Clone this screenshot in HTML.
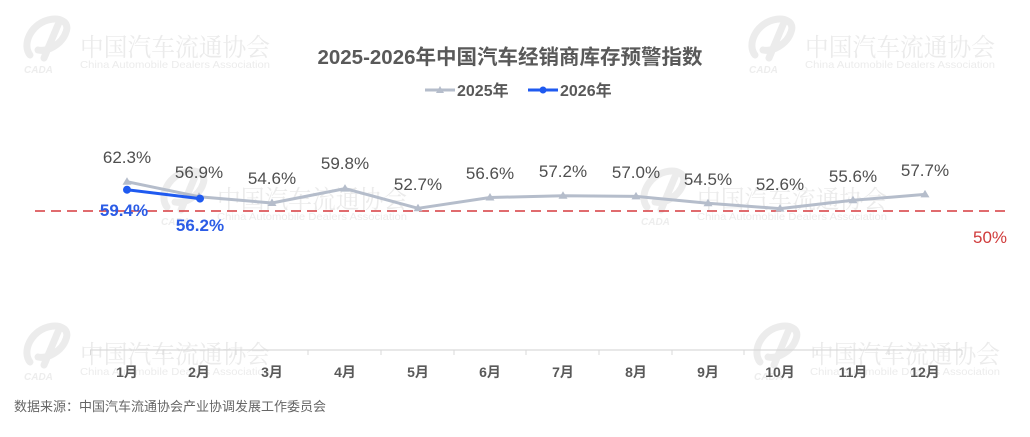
<!DOCTYPE html>
<html>
<head>
<meta charset="utf-8">
<style>
html,body{margin:0;padding:0;background:#fff;}
body{width:1030px;height:437px;overflow:hidden;}
svg{display:block;}
</style>
</head>
<body>
<svg width="1030" height="437" viewBox="0 0 1030 437" xmlns="http://www.w3.org/2000/svg">
<defs>
<g id="wm">
  <path d="M30 55 C22 45 30 25 48 20 C60 17 70 22 66 32 C62 44 48 52 38 50 M44 58 L60 20" fill="none" stroke="#ececec" stroke-width="7" stroke-linecap="round"/>
  <text x="24" y="73" font-family="Liberation Sans, sans-serif" font-size="10" font-style="italic" font-weight="bold" fill="#ededed">CADA</text>
  <text x="80" y="56" font-family="'Noto Serif CJK SC', serif" font-size="25" fill="#ebebeb" textLength="190" lengthAdjust="spacingAndGlyphs">中国汽车流通协会</text>
  <text x="80" y="68" font-family="Liberation Sans, sans-serif" font-size="10.5" fill="#ececec" textLength="190" lengthAdjust="spacingAndGlyphs">China Automobile Dealers Association</text>
</g>
</defs>

<!-- watermarks -->
<use href="#wm" x="0" y="0"/>
<use href="#wm" x="725" y="0"/>
<use href="#wm" x="0" y="307"/>
<use href="#wm" x="730" y="307"/>
<use href="#wm" x="137" y="152"/>
<use href="#wm" x="617" y="152"/>

<!-- title -->
<text x="510" y="64" text-anchor="middle" font-family="'Liberation Sans','Noto Sans CJK SC',sans-serif" font-size="20.5" font-weight="bold" fill="#595959">2025-2026年中国汽车经销商库存预警指数</text>

<!-- legend -->
<line x1="425" y1="90" x2="455" y2="90" stroke="#b5bdcb" stroke-width="3"/>
<path d="M440 86 L444 93 L436 93 Z" fill="#b5bdcb"/>
<text x="457" y="96" font-family="'Liberation Sans','Noto Sans CJK SC',sans-serif" font-size="16" font-weight="bold" fill="#595959">2025年</text>
<line x1="528" y1="90" x2="558" y2="90" stroke="#1f5af0" stroke-width="3"/>
<circle cx="543" cy="90" r="3.5" fill="#1f5af0"/>
<text x="560" y="96" font-family="'Liberation Sans','Noto Sans CJK SC',sans-serif" font-size="16" font-weight="bold" fill="#595959">2026年</text>

<!-- 50% reference line -->
<line x1="35" y1="211" x2="1008" y2="211" stroke="#d63a3f" stroke-width="1.5" stroke-dasharray="10,6"/>
<text x="990" y="243" text-anchor="middle" font-family="'Liberation Sans',sans-serif" font-size="17" fill="#d03b3b">50%</text>

<!-- x axis -->
<line x1="90" y1="350" x2="962" y2="350" stroke="#d9d9d9" stroke-width="1.2"/>
<g stroke="#d9d9d9" stroke-width="1">
<line x1="90.5" y1="350" x2="90.5" y2="355"/>
<line x1="163" y1="350" x2="163" y2="355"/>
<line x1="236" y1="350" x2="236" y2="355"/>
<line x1="308" y1="350" x2="308" y2="355"/>
<line x1="381" y1="350" x2="381" y2="355"/>
<line x1="454" y1="350" x2="454" y2="355"/>
<line x1="526" y1="350" x2="526" y2="355"/>
<line x1="599" y1="350" x2="599" y2="355"/>
<line x1="672" y1="350" x2="672" y2="355"/>
<line x1="744" y1="350" x2="744" y2="355"/>
<line x1="817" y1="350" x2="817" y2="355"/>
<line x1="889" y1="350" x2="889" y2="355"/>
<line x1="962" y1="350" x2="962" y2="355"/>
</g>
<g font-family="'Liberation Sans','Noto Sans CJK SC',sans-serif" font-size="14" font-weight="bold" fill="#595959" text-anchor="middle">
<text x="127" y="377">1月</text>
<text x="199" y="377">2月</text>
<text x="272" y="377">3月</text>
<text x="345" y="377">4月</text>
<text x="418" y="377">5月</text>
<text x="490" y="377">6月</text>
<text x="563" y="377">7月</text>
<text x="636" y="377">8月</text>
<text x="708" y="377">9月</text>
<text x="780" y="377">10月</text>
<text x="853" y="377">11月</text>
<text x="925" y="377">12月</text>
</g>

<!-- 2025 series -->
<polyline fill="none" stroke="#b5bdcb" stroke-width="3" stroke-linejoin="round"
 points="127,181.7 199,196.7 272,203 345,188.6 418,208.3 490,197.5 563,195.8 636,196.4 708,203.3 780,208.6 853,200.3 925,194.4"/>
<g fill="#b5bdcb">
<path d="M127 177.2 L131.5 184.7 L122.5 184.7 Z"/>
<path d="M199 192.2 L203.5 199.7 L194.5 199.7 Z"/>
<path d="M272 198.5 L276.5 206 L267.5 206 Z"/>
<path d="M345 184.1 L349.5 191.6 L340.5 191.6 Z"/>
<path d="M418 203.8 L422.5 211.3 L413.5 211.3 Z"/>
<path d="M490 193 L494.5 200.5 L485.5 200.5 Z"/>
<path d="M563 191.3 L567.5 198.8 L558.5 198.8 Z"/>
<path d="M636 191.9 L640.5 199.4 L631.5 199.4 Z"/>
<path d="M708 198.8 L712.5 206.3 L703.5 206.3 Z"/>
<path d="M780 204.1 L784.5 211.6 L775.5 211.6 Z"/>
<path d="M853 195.8 L857.5 203.3 L848.5 203.3 Z"/>
<path d="M925 189.9 L929.5 197.4 L920.5 197.4 Z"/>
</g>
<g font-family="'Liberation Sans',sans-serif" font-size="17" fill="#4f4f4f" text-anchor="middle">
<text x="127" y="163">62.3%</text>
<text x="199" y="178">56.9%</text>
<text x="272" y="184">54.6%</text>
<text x="345" y="169">59.8%</text>
<text x="418" y="190">52.7%</text>
<text x="490" y="179">56.6%</text>
<text x="563" y="177">57.2%</text>
<text x="636" y="178">57.0%</text>
<text x="708" y="185">54.5%</text>
<text x="780" y="190">52.6%</text>
<text x="853" y="182">55.6%</text>
<text x="925" y="176">57.7%</text>
</g>

<!-- 2026 series -->
<polyline fill="none" stroke="#1f5af0" stroke-width="3" points="127,189.7 200,198.6"/>
<circle cx="127" cy="189.7" r="4" fill="#1f5af0"/>
<circle cx="200" cy="198.6" r="4" fill="#1f5af0"/>
<g font-family="'Liberation Sans',sans-serif" font-size="17" font-weight="bold" fill="#2b5ce6" text-anchor="middle">
<text x="124" y="216">59.4%</text>
<text x="200" y="231">56.2%</text>
</g>

<!-- footer -->
<text x="14" y="411" font-family="'Liberation Sans','Noto Sans CJK SC',sans-serif" font-size="13" fill="#666666">数据来源：中国汽车流通协会产业协调发展工作委员会</text>
</svg>
</body>
</html>
